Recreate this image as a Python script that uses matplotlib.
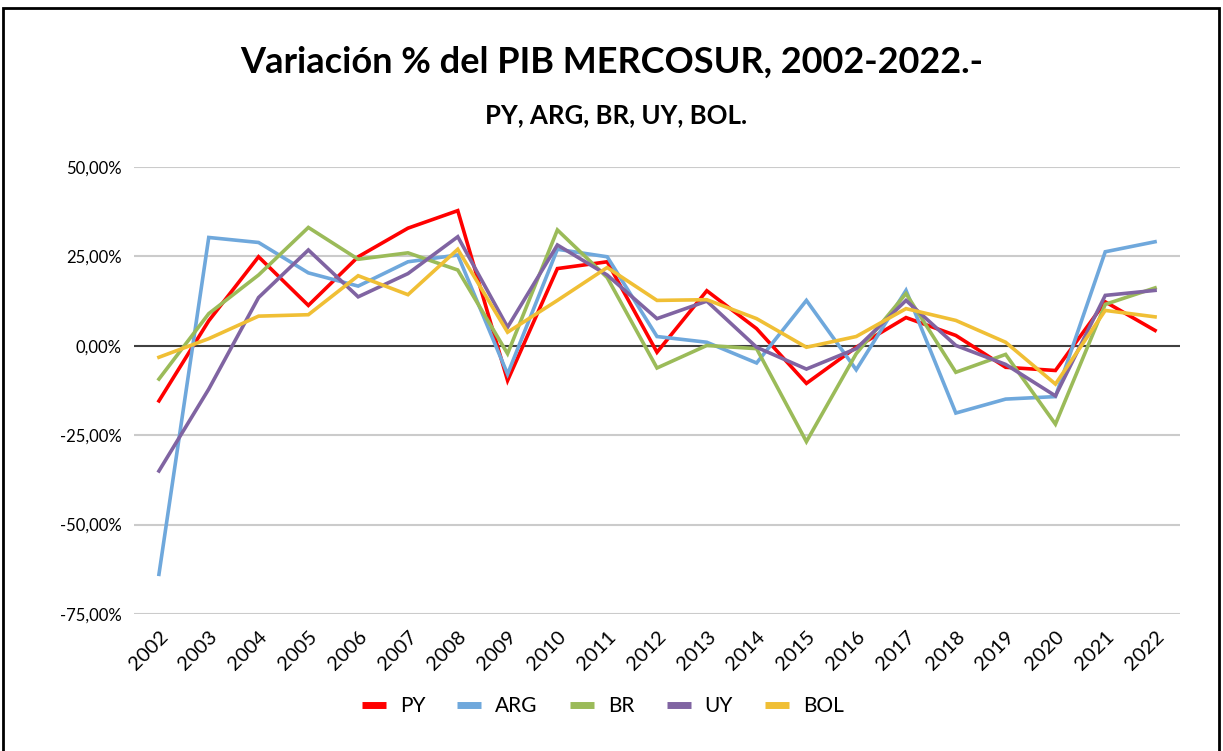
import matplotlib
matplotlib.use('Agg')
import matplotlib.pyplot as plt
from matplotlib.ticker import FuncFormatter
from matplotlib.patches import Rectangle

plt.rcParams['font.family'] = ['Lato', 'DejaVu Sans']

# Data (in %).
years = [str(y) for y in range(2002, 2023)]
py = [-15.4, 7.0, 24.9, 11.3, 24.9, 32.9, 37.8, -9.7, 21.6, 23.5, -1.8,
      15.4, 4.8, -10.5, -0.4, 7.9, 2.9, -6.0, -6.9, 12.3, 4.3]
arg = [-63.9, 30.3, 28.9, 20.4, 16.7, 23.5, 25.4, -7.9, 27.0, 24.9, 2.6,
       1.0, -4.8, 12.7, -6.7, 15.5, -18.8, -14.9, -14.2, 26.3, 29.1]
br = [-9.3, 9.0, 19.8, 33.1, 24.2, 26.0, 21.2, -2.2, 32.4, 19.1, -6.2,
      0.1, -0.8, -26.8, -2.2, 14.6, -7.4, -2.4, -21.9, 11.6, 16.2]
uy = [-35.0, -12.1, 13.5, 26.8, 13.7, 20.2, 30.5, 5.2, 28.2, 19.8, 7.6,
      12.5, -0.4, -6.5, -0.8, 12.7, 0.1, -5.2, -14.0, 14.1, 15.5]
bol = [-3.2, 2.0, 8.3, 8.7, 19.6, 14.3, 27.0, 3.8, 12.7, 21.9, 12.7,
       12.9, 7.6, -0.4, 2.6, 10.4, 7.1, 1.0, -10.7, 9.9, 8.1]

series = [("PY", py, "#FF0000"), ("ARG", arg, "#6FA8DC"), ("BR", br, "#9BBB59"),
          ("UY", uy, "#8064A2"), ("BOL", bol, "#F0BF35")]

fig = plt.figure(figsize=(12.23, 7.51), dpi=100)
ax = fig.add_axes([0.1096, 0.1824, 0.8552, 0.5952])

# Gridlines and zero axis line.
for v in [-75, -50, -25, 25, 50]:
    ax.axhline(v, color="#CBCBCB", lw=1.5, zorder=1)
ax.axhline(0, color="#404040", lw=1.5, zorder=2)

x = list(range(len(years)))
for name, vals, col in series:
    ax.plot(x, vals, color=col, lw=2.6, label=name, zorder=3,
            solid_joinstyle='miter')

ax.set_xlim(-0.5, len(years) - 0.5)
ax.set_ylim(-75, 50)
ax.set_yticks([-75, -50, -25, 0, 25, 50])
ax.yaxis.set_major_formatter(FuncFormatter(lambda v, p: f"{v:.2f}%".replace(".", ",")))
ax.set_xticks(x)
ax.set_xticklabels(years, rotation=45, ha="right", va="top", rotation_mode="anchor")
ax.tick_params(axis="both", length=0, colors="#000000")
ax.tick_params(axis="x", pad=10, labelsize=14.5)
ax.tick_params(axis="y", pad=9, labelsize=12)
for s in ax.spines.values():
    s.set_visible(False)

fig.text(0.5, 0.917, "Variación % del PIB MERCOSUR, 2002-2022.-", ha="center",
         va="center", fontsize=26, fontweight="bold")
fig.text(0.504, 0.847, "PY, ARG, BR, UY, BOL.", ha="center", va="center",
         fontsize=18.5, fontweight="bold")

leg = fig.legend(loc="center", bbox_to_anchor=(0.493, 0.06), ncol=5, frameon=False,
                 fontsize=15, handlelength=1.15, handletextpad=0.67, columnspacing=1.55)
for h in leg.get_lines():
    h.set_linewidth(5)
    h.set_solid_capstyle('butt')

# Outer frame of the chart.
fig.patches.append(Rectangle((3 / 1223, -0.05), 1216 / 1223, 1.05 - 8 / 751,
                             transform=fig.transFigure, fill=False,
                             edgecolor="black", lw=2))

fig.savefig("out.png", dpi=100)
